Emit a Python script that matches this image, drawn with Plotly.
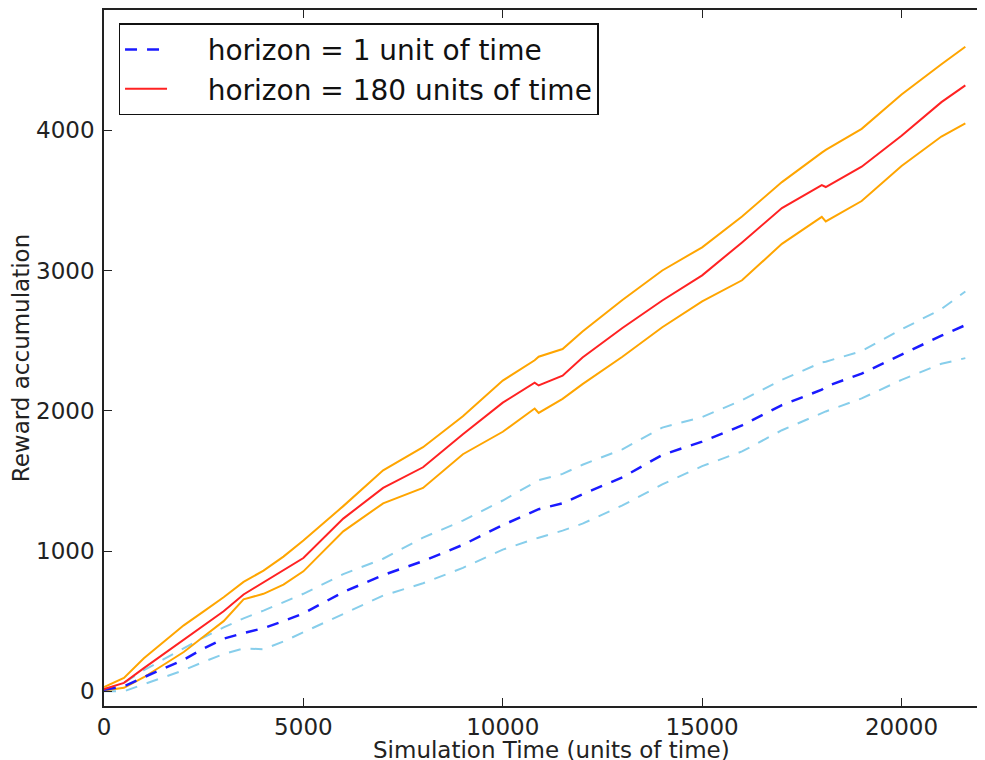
import plotly.graph_objects as go

# Simulation time grid (units of time)
time = [0, 500, 1000, 1500, 2000, 2500, 3000, 3500, 4000, 4500, 5000,
        6000, 7000, 8000, 9000, 10000, 10800, 10900, 11500, 12000, 13000,
        14000, 15000, 16000, 17000, 18000, 18100, 19000, 20000, 21000, 21600]

# horizon = 1 unit of time (mean and band)
h1_mean = [10, 35, 100, 160, 225, 305, 375, 415, 450, 500, 555,
           707, 828, 928, 1044, 1185, 1290, 1298, 1340, 1405, 1525,
           1685, 1780, 1895, 2040, 2150, 2172, 2265, 2400, 2535, 2610]
h1_upper = [10, 60, 150, 230, 310, 385, 455, 520, 575, 635, 695,
            835, 945, 1095, 1217, 1360, 1490, 1505, 1550, 1615, 1725,
            1880, 1955, 2075, 2220, 2345, 2350, 2425, 2580, 2725, 2850]
h1_lower = [0, 0, 50, 100, 150, 210, 265, 305, 300, 355, 420,
            555, 682, 770, 880, 1010, 1085, 1095, 1145, 1195, 1325,
            1475, 1605, 1710, 1861, 1987, 1995, 2088, 2220, 2335, 2375]

# horizon = 180 units of time (mean and band)
h180_mean = [15, 60, 165, 265, 370, 470, 570, 690, 775, 860, 950,
             1231, 1450, 1597, 1833, 2058, 2200, 2180, 2250, 2380, 2590,
             2786, 2965, 3200, 3445, 3608, 3595, 3740, 3960, 4200, 4320]
h180_upper = [30, 95, 235, 355, 470, 570, 670, 780, 860, 960, 1075,
              1320, 1575, 1740, 1960, 2215, 2360, 2385, 2440, 2565, 2790,
              3000, 3165, 3385, 3630, 3840, 3860, 4010, 4255, 4470, 4595]
h180_lower = [5, 25, 100, 190, 280, 390, 500, 655, 695, 760, 855,
              1140, 1340, 1450, 1690, 1850, 2016, 1984, 2085, 2190, 2385,
              2595, 2780, 2930, 3190, 3382, 3350, 3495, 3745, 3955, 4048]

x_ticks = [0, 5000, 10000, 15000, 20000]
x_tick_text = ["0", "5000", "10000", "15000", "20000"]
y_ticks = [0, 1000, 2000, 3000, 4000]
y_tick_text = ["0", "1000", "2000", "3000", "4000"]

FONT = "DejaVu Sans"
NB = "\u00a0" * 4

fig = go.Figure()
fig.add_trace(go.Scatter(x=time, y=h1_upper, mode="lines", showlegend=False,
                         line=dict(color="#87ceeb", width=2, dash="12px,10px")))
fig.add_trace(go.Scatter(x=time, y=h1_lower, mode="lines", showlegend=False,
                         line=dict(color="#87ceeb", width=2, dash="12px,10px")))
fig.add_trace(go.Scatter(x=time, y=h180_upper, mode="lines", showlegend=False,
                         line=dict(color="#ffa500", width=2)))
fig.add_trace(go.Scatter(x=time, y=h180_lower, mode="lines", showlegend=False,
                         line=dict(color="#ffa500", width=2)))
fig.add_trace(go.Scatter(x=time, y=h1_mean, mode="lines",
                         name=NB + "horizon = 1 unit of time",
                         line=dict(color="#1a1aff", width=2.5, dash="12px,10px")))
fig.add_trace(go.Scatter(x=time, y=h180_mean, mode="lines",
                         name=NB + "horizon = 180 units of time",
                         line=dict(color="#ff2222", width=2)))

# page body adds an 8px offset; figure is sized to fit the 985x760 window
fig.update_layout(
    width=977, height=752,
    margin=dict(l=95.5, r=0, t=2, b=54.3, autoexpand=False),
    paper_bgcolor="white", plot_bgcolor="white",
    font=dict(family=FONT, size=23, color="#222"),
    legend=dict(x=0.0165, y=0.981, xanchor="left", yanchor="top",
                bgcolor="white", bordercolor="#111", borderwidth=1.5,
                font=dict(family=FONT, size=28, color="#111"),
                itemwidth=42),
    xaxis=dict(range=[0, 22093], tickvals=x_ticks, ticktext=x_tick_text,
               ticks="inside", ticklen=8, automargin=False,
               tickcolor="#222", showline=True, linecolor="#222", linewidth=1.5,
               mirror="ticks", showgrid=False, zeroline=False),
    yaxis=dict(range=[-105, 4857], tickvals=y_ticks, ticktext=y_tick_text,
               ticks="inside", ticklen=8, automargin=False, ticklabelstandoff=3,
               tickcolor="#222", showline=True, linecolor="#222", linewidth=1.5,
               mirror=False, showgrid=False, zeroline=False,
               title=dict(text="Reward accumulation", standoff=5,
                          font=dict(size=23))),
    annotations=[dict(text="Simulation Time (units of time)", xref="paper",
                      yref="paper", x=0.5077, y=-0.0628, xanchor="center",
                      yanchor="middle", showarrow=False, height=22,
                      borderpad=0,
                      font=dict(family=FONT, size=23, color="#222"))],
)

fig.write_html("out.html")
